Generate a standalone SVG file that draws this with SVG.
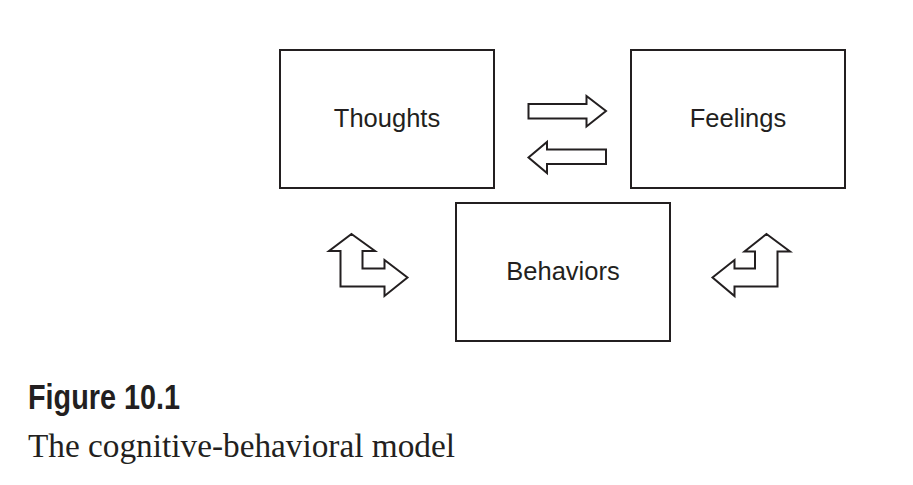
<svg xmlns="http://www.w3.org/2000/svg" width="913" height="485" viewBox="0 0 913 485">
<style>
.box{fill:#fff;stroke:#231f20;stroke-width:2}
.lbl{font-family:"Liberation Sans",Arial,sans-serif;font-size:25.5px;fill:#231f20;text-anchor:middle}
.arr{fill:#fff;stroke:#231f20;stroke-width:2;stroke-linejoin:miter}
.fig{font-family:"Liberation Sans",Arial,sans-serif;font-weight:bold;font-size:35px;fill:#231f20}
.cap{font-family:"Liberation Serif","Times New Roman",serif;font-size:33px;fill:#231f20}
</style>
<rect width="913" height="485" fill="#fff"/>
<g id="thoughts">
<rect class="box" x="280" y="50" width="214" height="138"/>
<text class="lbl" x="387" y="127">Thoughts</text>
</g>
<g id="feelings">
<rect class="box" x="631" y="50" width="214" height="138"/>
<text class="lbl" x="738" y="127">Feelings</text>
</g>
<g id="behaviors">
<rect class="box" x="456" y="203" width="214" height="138"/>
<text class="lbl" x="563" y="280">Behaviors</text>
</g>
<g id="connectors">
<path class="arr" d="M528.5,104 L586.5,104 L586.5,96 L606,111 L586.5,126.5 L586.5,118.5 L528.5,118.5 Z"/>
<path class="arr" d="M606,149.5 L547,149.5 L547,142 L528.5,157.5 L547,173 L547,164 L606,164 Z"/>
<path class="arr" d="M351.5,234 L375,251 L362.5,251 L362.5,268.5 L384.5,268.5 L384.5,260 L407.5,277.5 L384.5,296 L384.5,286.5 L340.5,286.5 L340.5,251 L329,251 Z"/>
<path class="arr" d="M766.5,234 L790,251.5 L777.5,251.5 L777.5,286.5 L734.5,286.5 L734.5,296 L712.5,277.5 L734.5,260 L734.5,268.5 L755,268.5 L755,251.5 L744.5,251.5 Z"/>
</g>
<text class="fig" x="28" y="409" textLength="152" lengthAdjust="spacingAndGlyphs">Figure 10.1</text>
<text class="cap" x="28" y="457" textLength="427" lengthAdjust="spacingAndGlyphs">The cognitive-behavioral model</text>
</svg>
